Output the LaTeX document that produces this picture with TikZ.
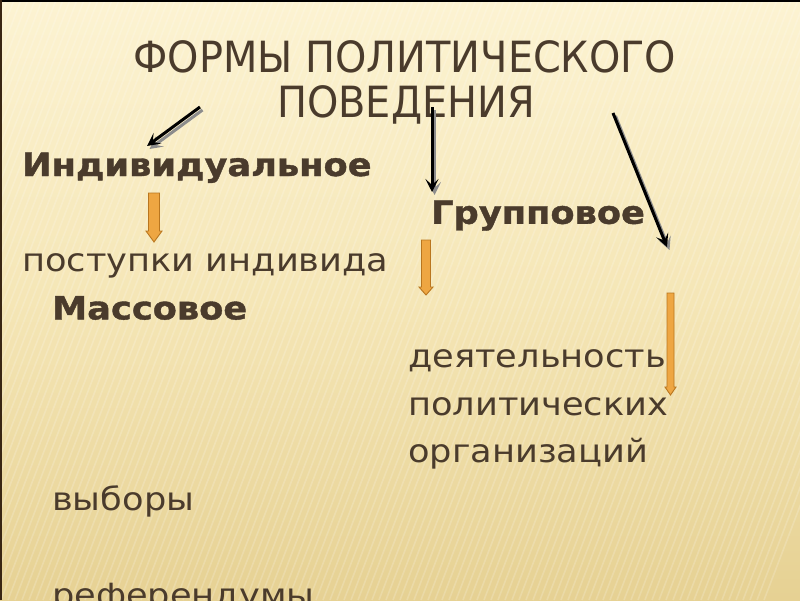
\documentclass[tikz,border=0pt]{standalone}
\usepackage{fontspec}
\setmainfont{DejaVu Sans}
\newfontfamily\bodyfont[FakeStretch=1.1]{DejaVu Sans}
\newfontfamily\boldfnt[FakeStretch=1.1,FakeBold=1.2]{DejaVuSans-Bold.ttf}
\newfontfamily\titlefont[FakeStretch=1.03]{DejaVuSansCondensed.ttf}
\usetikzlibrary{arrows.meta}
\definecolor{txt}{HTML}{4A3B2C}
\definecolor{bgtop}{HTML}{FCF3D2}
\definecolor{bgmid}{HTML}{F5E6B6}
\definecolor{bgbot}{HTML}{E6D193}
\definecolor{orfill}{HTML}{EEA642}
\definecolor{ordraw}{HTML}{B9761F}
\tikzset{
  lbl/.style={anchor=base west, inner sep=0pt, text=txt, font=\bodyfont\fontsize{32}{32}\selectfont},
  lblb/.style={lbl, font=\boldfnt\fontsize{32}{32}\selectfont},
  ttl/.style={anchor=base, inner sep=0pt, text=txt, font=\titlefont\fontsize{43}{43}\selectfont},
  blk/.style={line width=3pt, black, -{Stealth[length=13pt,width=13pt,inset=6pt]}},
  shd/.style={line width=3pt, black!45, -{Stealth[length=13pt,width=13pt,inset=6pt]}},
  orarrow/.style={fill=orfill, draw=ordraw, line width=0.9pt, line join=miter}
}
\begin{document}
\begin{tikzpicture}[x=1pt,y=-1pt]
\useasboundingbox (0,0) rectangle (800,600);
% background
\shade[top color=bgtop, bottom color=bgbot, middle color=bgmid] (0,0) rectangle (800,600);
\begin{scope}
\clip (0,0) rectangle (800,600);
\foreach \i in {0,7,...,1000} {
  \draw[white, opacity=0.18, line width=1.6pt] (\i-230,600) -- (\i,0);
}
\end{scope}
\draw[black, line width=2pt] (0,1) -- (800,1);
\draw[black!70!brown, line width=2pt] (1,0) -- (1,600);

% title
\node[ttl] (t1) at (405,72) {ФОРМЫ ПОЛИТИЧЕСКОГО};
\node[ttl] (t2) at (406,117) {ПОВЕДЕНИЯ};

% text
\node[lblb] (ind) at (22,176) {Индивидуальное};
\node[lblb] (grp) at (431,223.8) {Групповое};
\node[lbl]  (pos) at (22,271.6) {поступки индивида};
\node[lblb] (mas) at (52,319.4) {Массовое};
\node[lbl]  (d1) at (408,367.2) {деятельность};
\node[lbl]  (d2) at (408,415) {политических};
\node[lbl]  (d3) at (408,462.8) {организаций};
\node[lbl]  (v1) at (52,510.6) {выборы};
\node[lbl]  (v2) at (52,606.2) {референдумы};

% black arrows
\coordinate (a1s) at (200,107);
\coordinate (a1e) at (147,146);
\coordinate (a2s) at (432,107);
\coordinate (a2e) at (432,192);
\coordinate (a3s) at (613,113);
\coordinate (a3e) at (667,247);
\foreach \s/\e in {a1s/a1e,a2s/a2e,a3s/a3e} {
  \draw[shd] ([shift={(2.5,3)}]\s) -- ([shift={(2.5,3)}]\e);
  \draw[blk] (\s) -- (\e);
}

% orange block arrows
\draw[orarrow] (148.5,193) -- (159.5,193) -- (159.5,231) -- (162,231) -- (154,242) -- (146,231) -- (148.5,231) -- cycle;
\draw[orarrow] (421.5,240) -- (430.5,240) -- (430.5,287) -- (433,287) -- (426,295) -- (419,287) -- (421.5,287) -- cycle;
\draw[orarrow] (667,293) -- (674,293) -- (674,387) -- (676,387) -- (670.5,395) -- (665,387) -- (667,387) -- cycle;
\end{tikzpicture}
\end{document}
